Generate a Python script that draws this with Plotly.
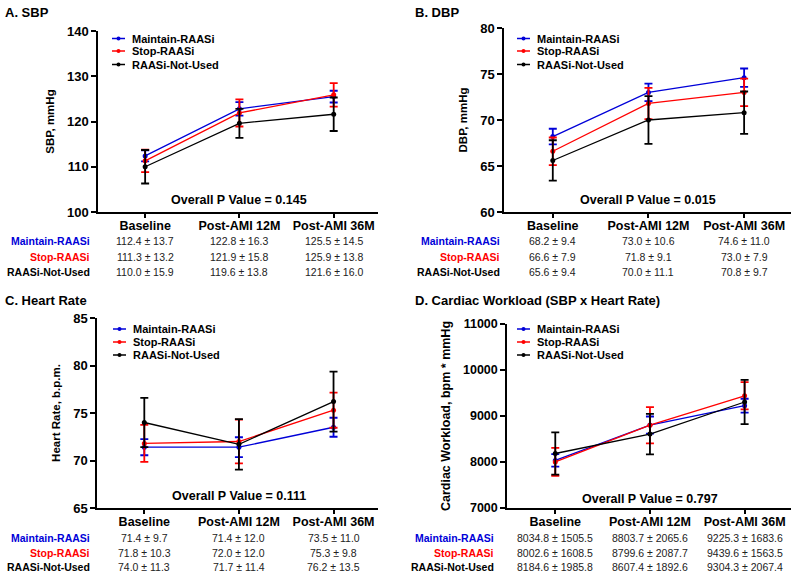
import plotly.graph_objects as go

W, H = 793, 573
FONT = "Arial, Liberation Sans, sans-serif"
BLUE = "#0000D8"
RED = "#FF0000"
BLACK = "#000000"

groups = ["Maintain-RAASi", "Stop-RAASi", "RAASi-Not-Used"]
group_colors = [BLUE, RED, BLACK]
categories = ["Baseline", "Post-AMI 12M", "Post-AMI 36M"]

# --- SBP ---
sbp_mean = [[112.4, 122.8, 125.5], [111.3, 121.9, 125.9], [110.0, 119.6, 121.6]]
sbp_sd = [[13.7, 16.3, 14.5], [13.2, 15.8, 13.8], [15.9, 13.8, 16.0]]
sbp_err = [[1.2, 1.5, 1.3], [2.5, 3.0, 2.6], [3.7, 3.2, 3.7]]
# --- DBP ---
dbp_mean = [[68.2, 73.0, 74.6], [66.6, 71.8, 73.0], [65.6, 70.0, 70.8]]
dbp_sd = [[9.4, 10.6, 11.0], [7.9, 9.1, 7.9], [9.4, 11.1, 9.7]]
dbp_err = [[0.85, 0.95, 1.0], [1.5, 1.7, 1.5], [2.2, 2.6, 2.3]]
# --- Heart rate ---
hr_mean = [[71.4, 71.4, 73.5], [71.8, 72.0, 75.3], [74.0, 71.7, 76.2]]
hr_sd = [[9.7, 12.0, 11.0], [10.3, 12.0, 9.8], [11.3, 11.4, 13.5]]
hr_err = [[0.85, 1.05, 1.0], [1.95, 2.3, 1.85], [2.6, 2.65, 3.15]]
# --- Cardiac workload ---
cw_mean = [[8034.8, 8803.7, 9225.3], [8002.6, 8799.6, 9439.6], [8184.6, 8607.4, 9304.3]]
cw_sd = [[1505.5, 2065.6, 1683.6], [1608.5, 2087.7, 1563.5], [1985.8, 1892.6, 2067.4]]
cw_err = [[135, 185, 150], [305, 395, 295], [460, 440, 480]]

# panel: (title, ytitle, mean, sd, err, yrange, dtick, pval)
panels = [
    ("A. SBP", "SBP, mmHg", sbp_mean, sbp_sd, sbp_err, [100, 140], 10, "0.145"),
    ("B. DBP", "DBP, mmHg", dbp_mean, dbp_sd, dbp_err, [60, 80], 5, "0.015"),
    ("C. Heart Rate", "Heart Rate, b.p.m.", hr_mean, hr_sd, hr_err, [65, 85], 5, "0.111"),
    ("D. Cardiac Workload (SBP x Heart Rate)", "Cardiac Workload, bpm * mmHg",
     cw_mean, cw_sd, cw_err, [7000, 11000], 1000, "0.797"),
]

# pixel geometry of each panel
geo = [
    dict(x0=98, x1=378, y0=31, y1=212, xr=[-0.5, 2.47], tx=3, ty=12, lab=92,
         rows=[241, 257, 272], py=200, leg=[38.5, 51, 64.5], lx=112, yts=11.5, tks=13),
    dict(x0=504, x1=791, y0=28, y1=212, xr=[-0.51, 2.49], tx=413, ty=12, lab=502,
         rows=[241, 257, 272], py=200, leg=[38.5, 51, 64.5], lx=517, yts=11.5, tks=13),
    dict(x0=97, x1=378, y0=318, y1=508, xr=[-0.5, 2.47], tx=3, ty=300, lab=92,
         rows=[538, 553, 567], py=496, leg=[329, 342, 355], lx=113, yts=11.5, tks=13),
    dict(x0=507, x1=791, y0=324, y1=508, xr=[-0.51, 2.49], tx=413, ty=300, lab=496,
         rows=[538, 553, 567], py=499, leg=[329, 342, 355], lx=517, yts=12.5, tks=12.5),
]

fig = go.Figure()
annotations = []
shapes = []
layout = {}


def px(v):
    return v / W


def py(v):
    return 1 - v / H


for i, (title, ytitle, mean, sd, err, yr, dt, pval) in enumerate(panels):
    g = geo[i]
    n = "" if i == 0 else str(i + 1)
    for k in range(3):
        fig.add_trace(go.Scatter(
            x=[0, 1, 2], y=mean[k], name=groups[k], mode="lines+markers",
            xaxis="x" + n, yaxis="y" + n, showlegend=False,
            line=dict(color=group_colors[k], width=1.3),
            marker=dict(color=group_colors[k], size=5),
            error_y=dict(type="data", array=err[k], color=group_colors[k], thickness=1.8, width=4),
            hoverinfo="skip"))
    axis_line = dict(showline=True, linecolor="black", linewidth=1.5, showgrid=False, zeroline=False,
                     ticks="outside", tickwidth=1.5, tickcolor="black", automargin=False)
    layout["xaxis" + n] = dict(
        domain=[px(g["x0"]), px(g["x1"])], range=g["xr"], anchor="y" + n, ticklen=4,
        tickvals=[0, 1, 2], ticktext=["<b>%s</b>" % c for c in categories], ticklabelstandoff=-3,
        tickfont=dict(size=12.5, color="black", family=FONT), **axis_line)
    layout["yaxis" + n] = dict(
        domain=[py(g["y1"]), py(g["y0"])], range=yr, dtick=dt, anchor="x" + n, tickformat="d",
        ticklen=5,
        tickfont=dict(size=g["tks"], color="black", family=FONT), tickprefix="<b>", ticksuffix="</b>",
        title=dict(text="<b>%s</b>" % ytitle, font=dict(size=g["yts"], color="black", family=FONT),
                   standoff=10),
        **axis_line)
    # legend drawn by hand (tight rows like the original)
    for k in range(3):
        yy = py(g["leg"][k])
        shapes.append(dict(type="line", xref="paper", yref="paper", x0=px(g["lx"]), x1=px(g["lx"] + 13),
                           y0=yy, y1=yy, line=dict(color=group_colors[k], width=1.5)))
        shapes.append(dict(type="circle", xref="paper", yref="paper",
                           x0=px(g["lx"] + 4.5), x1=px(g["lx"] + 8.5), y0=yy - 2 / H, y1=yy + 2 / H,
                           fillcolor=group_colors[k], line=dict(color=group_colors[k], width=0)))
        annotations.append(dict(text="<b>%s</b>" % groups[k], x=px(g["lx"] + 18), y=yy,
                                xref="paper", yref="paper", xanchor="left", yanchor="middle",
                                showarrow=False, font=dict(size=11, color="black", family=FONT)))
    # panel title
    annotations.append(dict(text="<b>%s</b>" % title, x=px(g["tx"]), y=py(g["ty"]), xref="paper",
                            yref="paper", xanchor="left", yanchor="middle", showarrow=False,
                            font=dict(size=13, color="black", family=FONT)))
    # p value
    annotations.append(dict(text="<b>Overall P Value = %s</b>" % pval, x=1.0, y=py(g["py"]),
                            xref="x" + n, yref="paper", xanchor="center", yanchor="middle",
                            showarrow=False, font=dict(size=12.5, color="black", family=FONT)))
    # table below the axis
    for k in range(3):
        annotations.append(dict(text="<b>%s</b>" % groups[k], x=px(g["lab"]), y=py(g["rows"][k]),
                                xref="paper", yref="paper", xanchor="right", yanchor="middle",
                                showarrow=False,
                                font=dict(size=10.5, color=group_colors[k], family=FONT)))
        for j in range(3):
            txt = "%.1f \u00b1 %.1f" % (mean[k][j], sd[k][j])
            annotations.append(dict(text=txt, x=j, y=py(g["rows"][k]), xref="x" + n, yref="paper",
                                    xanchor="center", yanchor="middle", showarrow=False,
                                    font=dict(size=10.5, color="#222", family=FONT)))

fig.update_layout(
    width=W, height=H, margin=dict(l=0, r=0, t=0, b=0, autoexpand=False),
    paper_bgcolor="white", plot_bgcolor="white",
    font=dict(family=FONT, color="black"), showlegend=False,
    annotations=annotations, shapes=shapes, **layout)

fig.write_html("out.html", config={"displayModeBar": False},
               post_script="document.body.style.margin='0px';")
